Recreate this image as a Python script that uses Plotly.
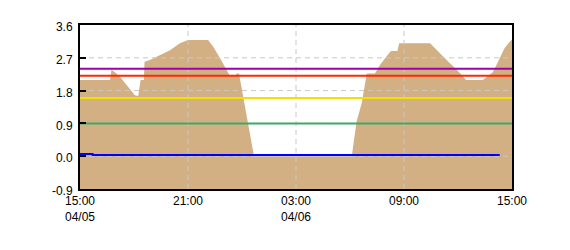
import plotly.graph_objects as go
import pandas as pd

# ---- data ----
area_times = [
    "2024-04-05 15:00", "2024-04-05 16:40", "2024-04-05 16:45", "2024-04-05 16:57",
    "2024-04-05 17:13", "2024-04-05 17:30", "2024-04-05 17:47", "2024-04-05 18:03",
    "2024-04-05 18:14", "2024-04-05 18:18", "2024-04-05 18:22", "2024-04-05 18:33",
    "2024-04-05 18:35", "2024-04-05 18:53", "2024-04-05 19:27", "2024-04-05 20:00",
    "2024-04-05 20:33", "2024-04-05 20:53", "2024-04-05 21:00", "2024-04-05 22:07",
    "2024-04-05 22:24", "2024-04-05 22:47", "2024-04-05 23:03", "2024-04-05 23:14",
    "2024-04-05 23:18", "2024-04-05 23:40", "2024-04-05 23:42", "2024-04-05 23:50",
    "2024-04-05 23:53", "2024-04-06 00:00", "2024-04-06 00:20", "2024-04-06 00:40",
    "2024-04-06 06:06", "2024-04-06 06:22", "2024-04-06 06:39", "2024-04-06 06:50",
    "2024-04-06 06:56", "2024-04-06 07:23", "2024-04-06 07:40", "2024-04-06 07:57",
    "2024-04-06 08:08", "2024-04-06 08:16", "2024-04-06 08:38", "2024-04-06 08:44",
    "2024-04-06 10:27", "2024-04-06 10:49", "2024-04-06 11:22", "2024-04-06 11:56",
    "2024-04-06 12:23", "2024-04-06 12:27", "2024-04-06 13:23", "2024-04-06 13:30",
    "2024-04-06 13:55", "2024-04-06 14:05", "2024-04-06 14:20", "2024-04-06 14:35",
    "2024-04-06 14:50", "2024-04-06 15:00",
]
area_values = [
    2.09, 2.09, 2.37, 2.30,
    2.18, 2.00, 1.82, 1.67,
    1.65, 1.85, 2.09, 2.09,
    2.59, 2.64, 2.78, 2.91,
    3.10, 3.17, 3.19, 3.19,
    3.00, 2.69, 2.46, 2.32,
    2.23, 2.23, 2.27, 2.27,
    2.14, 1.80, 0.95, 0.0,
    0.0, 0.95, 1.45, 2.04,
    2.27, 2.27, 2.50, 2.69,
    2.82, 2.89, 2.89, 3.10,
    3.10, 2.91, 2.64, 2.37,
    2.14, 2.09, 2.09, 2.14,
    2.30, 2.45, 2.72, 2.96,
    3.12, 3.20,
]

blue_times = ["2024-04-05 15:00", "2024-04-05 15:42", "2024-04-06 14:19"]
blue_values = [0.06, 0.03, 0.03]

threshold_names = ["purple", "red", "yellow", "green"]
threshold_values = [2.40, 2.21, 1.60, 0.90]
threshold_colors = ["#A000A8", "#FF2A00", "#F2E000", "#3CAA64"]

x_start = "2024-04-05 15:00"
x_end = "2024-04-06 15:00"
x_tickvals = ["2024-04-05 15:00", "2024-04-05 21:00", "2024-04-06 03:00",
              "2024-04-06 09:00", "2024-04-06 15:00"]
x_ticktext = ["15:00<br>04/05", "21:00", "03:00<br>04/06", "09:00", "15:00"]

y_min, y_max = -0.9, 3.6
y_tickvals = [-0.9, 0.0, 0.9, 1.8, 2.7, 3.6]
y_ticktext = [f"{v:.1f}" for v in y_tickvals]

FONT = "Liberation Sans, Arial, sans-serif"
GRID = "#C8C8C8"

fig = go.Figure()

# baseline for the filled area (axis minimum)
fig.add_trace(go.Scatter(x=[x_start, x_end], y=[y_min, y_min], mode="lines",
                         line=dict(width=0), hoverinfo="skip", showlegend=False))
fig.add_trace(go.Scatter(x=area_times, y=area_values, mode="lines",
                         line=dict(width=0, color="#D2B084"), fill="tonexty",
                         fillcolor="#D2B084", showlegend=False))

# dashed grid drawn over the area
gx, gy = [], []
for t in x_tickvals[1:-1]:
    gx += [t, t, None]
    gy += [y_min, y_max, None]
for v in y_tickvals[1:-1]:
    gx += [x_start, x_end, None]
    gy += [v, v, None]
fig.add_trace(go.Scatter(x=gx, y=gy, mode="lines",
                         line=dict(color=GRID, width=1, dash="5px,4px"),
                         hoverinfo="skip", showlegend=False))

for name, val, col in zip(threshold_names, threshold_values, threshold_colors):
    fig.add_trace(go.Scatter(x=[x_start, x_end], y=[val, val], mode="lines",
                             line=dict(color=col, width=2), name=name, showlegend=False))

fig.add_trace(go.Scatter(x=blue_times, y=blue_values, mode="lines",
                         line=dict(color="#0000FF", width=2, shape="hv"),
                         showlegend=False))

fig.update_layout(
    width=570, height=250,
    margin=dict(l=80, r=58, t=25, b=61),
    paper_bgcolor="white", plot_bgcolor="white",
    font=dict(family=FONT, size=12, color="black"),
)
fig.update_xaxes(
    type="date", range=[x_start, x_end],
    tickmode="array", tickvals=x_tickvals, ticktext=x_ticktext,
    ticks="", showgrid=False, zeroline=False,
    showline=True, linecolor="black", linewidth=2, mirror=True,
    tickfont=dict(family=FONT, size=12, color="black"),
)
fig.update_yaxes(
    range=[y_min, y_max],
    tickmode="array", tickvals=y_tickvals, ticktext=y_ticktext,
    ticks="inside", ticklen=6, tickwidth=2, tickcolor="black",
    ticklabelstandoff=3, ticklabelshift=2,
    showgrid=False, zeroline=False,
    showline=True, linecolor="black", linewidth=2, mirror=True,
    tickfont=dict(family=FONT, size=12, color="black"),
)

fig.write_html("out.html")
